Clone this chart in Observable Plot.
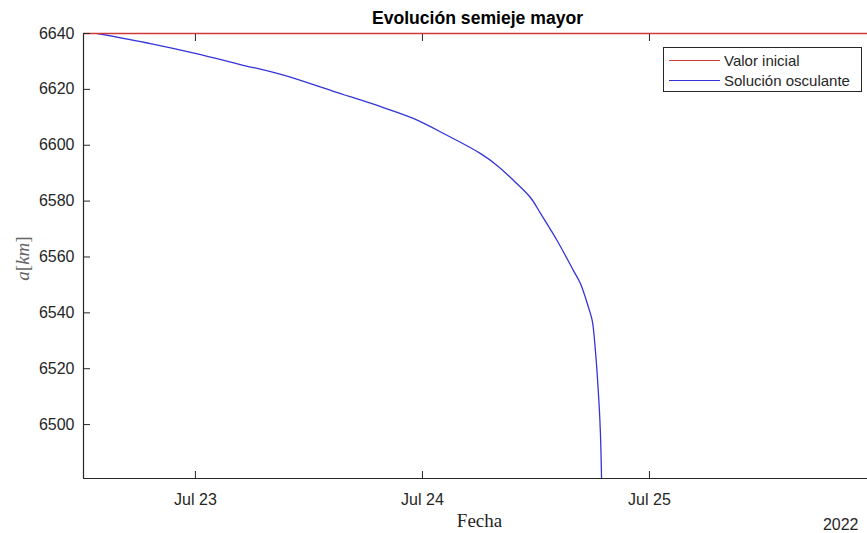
<!DOCTYPE html>
<html>
<head>
<meta charset="utf-8">
<script src="https://cdn.jsdelivr.net/npm/d3@7"></script>
<script src="https://cdn.jsdelivr.net/npm/@observablehq/plot@0.6"></script>
<style>
  html, body { margin: 0; padding: 0; background: #fff; }
  #wrap { position: relative; width: 867px; height: 533px; font-family: "Liberation Sans", Arial, sans-serif; }
  #legend { position: absolute; left: 663px; top: 47px; width: 199px; height: 45px; border: 1px solid #262626; background: #fff; box-sizing: border-box; }
  .lg-line { position: absolute; left: 5px; width: 51px; height: 0; border-top: 1.5px solid; }
  .lg-text { position: absolute; left: 60px; font-size: 15px; color: #262626; white-space: nowrap; line-height: 1; }
</style>
</head>
<body>
<div id="wrap"></div>
<script>
// ---- data ----
const titleText = "Evolución semieje mayor";
const xLabel = "Fecha";
const yLabel = "a[km]";
const yearLabel = "2022";
const seriesNames = ["Valor inicial", "Solución osculante"];
const seriesColors = ["#cd3b3b", "#3434d9"];

const initialValue = [6640];
const oscTimes = [
  "2022-07-22T13:38Z", "2022-07-22T19:15Z", "2022-07-23T00:06Z", "2022-07-23T04:45Z",
  "2022-07-23T09:19Z", "2022-07-23T14:35Z", "2022-07-23T19:52Z", "2022-07-23T23:02Z",
  "2022-07-24T02:38Z", "2022-07-24T06:09Z", "2022-07-24T07:55Z", "2022-07-24T09:38Z",
  "2022-07-24T11:25Z", "2022-07-24T12:29Z", "2022-07-24T14:14Z", "2022-07-24T15:58Z",
  "2022-07-24T16:42Z", "2022-07-24T17:33Z", "2022-07-24T17:57Z", "2022-07-24T18:17Z",
  "2022-07-24T18:39Z", "2022-07-24T18:49Z", "2022-07-24T18:56Z", "2022-07-24T18:59Z"
];
const oscValues = [
  6640.0, 6636.4, 6632.8, 6628.9,
  6625.1, 6619.3, 6613.5, 6609.6,
  6603.5, 6597.0, 6592.7, 6587.4,
  6581.3, 6575.6, 6565.9, 6555.1,
  6550.5, 6542.0, 6537.2, 6526.5,
  6508.6, 6496.8, 6481.0, 6470.0
];
const yTicks = [6500, 6520, 6540, 6560, 6580, 6600, 6620, 6640];
const xTicks = ["2022-07-23T00:00Z", "2022-07-24T00:00Z", "2022-07-25T00:00Z"];
const xDomain = ["2022-07-22T12:10Z", "2022-07-25T23:03Z"];
const yDomain = [6480.7, 6640];

// ---- build ----
const osc = oscTimes.map((t, i) => ({date: new Date(t), a: oscValues[i]}));
const xTickDates = xTicks.map(t => new Date(t));
const xDom = xDomain.map(t => new Date(t));
const ink = "#262626";
const fmt = d3.utcFormat("%b %-d");

const chart = Plot.plot({
  width: 867,
  height: 533,
  marginLeft: 83,
  marginRight: 0,
  marginTop: 33,
  marginBottom: 55,
  style: {fontFamily: '"Liberation Sans", Arial, sans-serif', color: ink, background: "#fff"},
  x: {type: "utc", domain: xDom},
  y: {domain: yDomain},
  marks: [
    Plot.line(osc, {x: "date", y: "a", stroke: seriesColors[1], strokeWidth: 1.3, curve: "catmull-rom", clip: true}),
    Plot.ruleX([xDom[0]], {stroke: ink, strokeWidth: 1.2}),
    Plot.ruleY([yDomain[0]], {stroke: ink, strokeWidth: 1.2}),
    Plot.ruleY(initialValue, {stroke: seriesColors[0], strokeWidth: 1.6}),
    Plot.axisY({ticks: yTicks, tickFormat: d3.format("d"), tickSize: -7, tickPadding: 16, fontSize: 16, label: null, stroke: ink, fill: ink}),
    Plot.axisX({anchor: "bottom", ticks: xTickDates, tickFormat: fmt, tickSize: -7, tickPadding: 22, fontSize: 16, label: null, stroke: ink, fill: ink}),
    Plot.axisX({anchor: "top", ticks: xTickDates, tickFormat: () => "", tickSize: -7, label: null, stroke: ink}),
    Plot.text([titleText], {frameAnchor: "top", lineAnchor: "bottom", dx: 2, dy: -9.7, fontSize: 17.6, fontWeight: "bold", fill: "#000"}),
    Plot.text([xLabel], {frameAnchor: "bottom", lineAnchor: "bottom", dx: 4, dy: 48.7, fontSize: 19, fontFamily: '"Liberation Serif", "DejaVu Serif", serif', fill: ink}),
    Plot.text([yearLabel], {frameAnchor: "bottom-right", textAnchor: "end", lineAnchor: "bottom", dx: -9, dy: 51, fontSize: 16, fill: ink}),
    Plot.text([yLabel], {frameAnchor: "left", rotate: -90, textAnchor: "middle", dx: -61, dy: 2.5, fontSize: 19, fontFamily: '"Liberation Serif", "DejaVu Serif", serif', fill: "#666"})
  ]
});

const wrap = document.getElementById("wrap");
wrap.appendChild(chart);

// mixed-style y label (italic variables, upright brackets)
d3.select(chart).selectAll("text").each(function() {
  if (this.textContent === yLabel) {
    const el = d3.select(this);
    el.text(null);
    el.attr("text-anchor", "middle");
    [["a", true], ["[", false], ["km", true], ["]", false]].forEach(([s, it]) => {
      el.append("tspan").attr("font-style", it ? "italic" : "normal").text(s);
    });
  }
});

// legend
const legend = document.createElement("div");
legend.id = "legend";
seriesNames.forEach((name, i) => {
  const line = document.createElement("div");
  line.className = "lg-line";
  line.style.borderTopColor = seriesColors[i];
  line.style.top = (12 + i * 20) + "px";
  legend.appendChild(line);
  const txt = document.createElement("div");
  txt.className = "lg-text";
  txt.style.top = (5 + i * 20) + "px";
  txt.textContent = name;
  legend.appendChild(txt);
});
wrap.appendChild(legend);
</script>
</body>
</html>
